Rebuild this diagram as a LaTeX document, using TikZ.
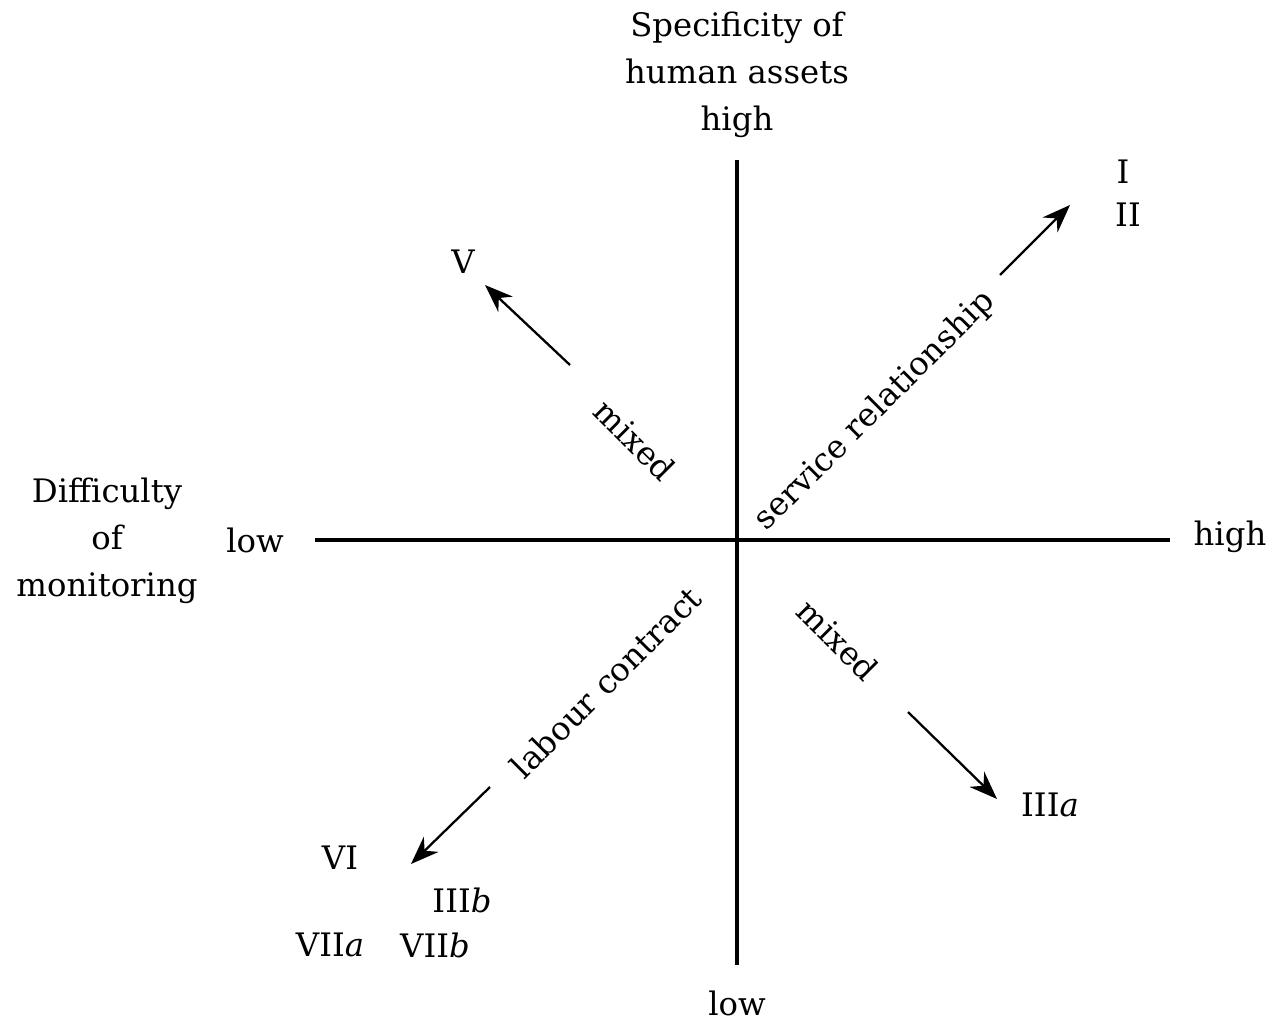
\documentclass[tikz,border=0pt]{standalone}
\usepackage{fontspec}
\setmainfont{DejaVu Serif}
\usetikzlibrary{arrows.meta}
\tikzset{
  lbl/.style={font=\fontsize{9.2}{13.4}\selectfont, inner sep=1pt},
  axe/.style={line width=0.9pt},
  fleche/.style={line width=0.65pt, -{Stealth[length=8pt,width=6pt]}}
}
\begin{document}
\begin{tikzpicture}
\useasboundingbox (0,0) rectangle (12.76,10.24);
% axes
\coordinate (O) at (7.37,4.84);
\coordinate (haut) at (7.37,8.64);
\coordinate (bas) at (7.37,0.59);
\coordinate (gauche) at (3.15,4.84);
\coordinate (droite) at (11.70,4.84);
\draw [axe] (haut) -- (bas);
\draw [axe] (gauche) -- (droite);
\node [lbl, align=center] (spec) at (7.37,9.49) {Specificity of\\human assets\\high};
\node [lbl] (spec-low) at (7.37,0.21) {low};
\node [lbl, align=center] (diff) at (1.07,4.83) {Difficulty\\of\\monitoring};
\node [lbl] (diff-low) at (2.55,4.84) {low};
\node [lbl] (diff-high) at (12.30,4.87) {high};
% diagonales
\node [lbl, rotate=45] (serv) at (8.75,6.13) {service relationship};
\node [lbl, rotate=-45] (mix1) at (6.35,5.84) {mixed};
\node [lbl, rotate=-45] (mix2) at (8.38,3.84) {mixed};
\node [lbl, rotate=45] (lab) at (6.06,3.42) {labour contract};
\coordinate (ne1) at (10.00,7.49); \coordinate (ne2) at (10.70,8.19);
\coordinate (nw1) at (5.70,6.59); \coordinate (nw2) at (4.85,7.39);
\coordinate (se1) at (9.08,3.12); \coordinate (se2) at (9.97,2.25);
\coordinate (sw1) at (4.90,2.37); \coordinate (sw2) at (4.11,1.60);
\draw [fleche] (ne1) -- (ne2);
\draw [fleche] (nw1) -- (nw2);
\draw [fleche] (se1) -- (se2);
\draw [fleche] (sw1) -- (sw2);
% classes
\node [lbl] (c1) at (11.23,8.52) {I};
\node [lbl] (c2) at (11.28,8.09) {II};
\node [lbl] (c5) at (4.63,7.62) {V};
\node [lbl] (c3a) at (10.50,2.19) {III\textit{a}};
\node [lbl] (c6) at (3.40,1.66) {VI};
\node [lbl] (c3b) at (4.62,1.24) {III\textit{b}};
\node [lbl] (c7a) at (3.30,0.79) {VII\textit{a}};
\node [lbl] (c7b) at (4.35,0.79) {VII\textit{b}};
\end{tikzpicture}
\end{document}
